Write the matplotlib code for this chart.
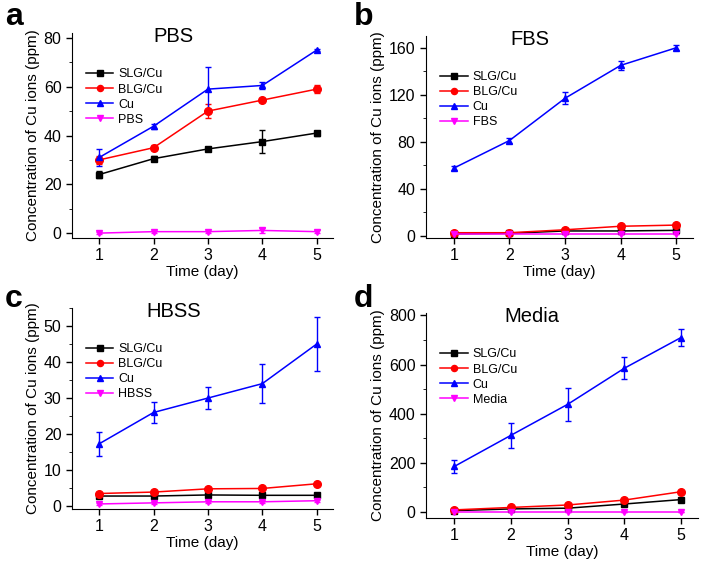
import matplotlib
matplotlib.use("Agg")
import matplotlib.pyplot as plt
from matplotlib.ticker import MultipleLocator

plt.rcParams["font.family"] = ["Liberation Sans", "DejaVu Sans"]

days = [1, 2, 3, 4, 5]
series_names = ["SLG/Cu", "BLG/Cu", "Cu"]

# PBS
pbs_slg = [24, 30.5, 34.5, 37.5, 41]
pbs_slg_err = [1.5, 1, 0.5, 4.8, 1]
pbs_blg = [30, 35, 50, 54.5, 59]
pbs_blg_err = [1.5, 1, 3, 0.8, 1.5]
pbs_cu = [31, 43.8, 59, 60.5, 75]
pbs_cu_err = [3.5, 1, 9, 1.5, 0.5]
pbs_ctrl = [0, 0.6, 0.6, 1.1, 0.6]
pbs_ctrl_err = [0.3, 0.4, 0.4, 1, 0.6]

# FBS
fbs_slg = [1.5, 2, 4, 4, 4.5]
fbs_slg_err = [0.3, 0.3, 0.5, 0.5, 0.5]
fbs_blg = [2.5, 2.5, 5, 8, 9]
fbs_blg_err = [0.5, 0.5, 0.5, 0.8, 0.8]
fbs_cu = [57.5, 81, 117, 145, 160]
fbs_cu_err = [1.5, 2, 5, 4, 2]
fbs_ctrl = [1.5, 1.5, 1.5, 1.5, 1.5]
fbs_ctrl_err = [0.2, 0.2, 0.2, 0.2, 0.2]

# HBSS
hbss_slg = [2.8, 2.8, 3.1, 3.0, 3.0]
hbss_slg_err = [0.3, 0.3, 0.3, 0.3, 0.6]
hbss_blg = [3.5, 3.9, 4.8, 4.9, 6.2]
hbss_blg_err = [0.3, 0.3, 0.3, 0.4, 0.3]
hbss_cu = [17.3, 26, 30, 34, 45]
hbss_cu_err = [3.3, 2.8, 3, 5.5, 7.5]
hbss_ctrl = [0.6, 0.9, 1.2, 1.2, 1.5]
hbss_ctrl_err = [0.2, 0.2, 0.3, 0.3, 0.3]

# Media
media_slg = [5, 12, 15, 32, 50]
media_slg_err = [2, 2, 3, 3, 4]
media_blg = [8, 18, 28, 48, 82]
media_blg_err = [2, 2, 3, 4, 4]
media_cu = [185, 312, 438, 585, 710]
media_cu_err = [25, 50, 68, 45, 35]
media_ctrl = [0, 0, 0, 0, 0]
media_ctrl_err = [1, 1, 1, 1, 1]

panels = [
    ("a", "PBS", [pbs_slg, pbs_blg, pbs_cu, pbs_ctrl],
     [pbs_slg_err, pbs_blg_err, pbs_cu_err, pbs_ctrl_err], (-2, 82), 20),
    ("b", "FBS", [fbs_slg, fbs_blg, fbs_cu, fbs_ctrl],
     [fbs_slg_err, fbs_blg_err, fbs_cu_err, fbs_ctrl_err], (-2, 170), 40),
    ("c", "HBSS", [hbss_slg, hbss_blg, hbss_cu, hbss_ctrl],
     [hbss_slg_err, hbss_blg_err, hbss_cu_err, hbss_ctrl_err], (-0.8, 55), 10),
    ("d", "Media", [media_slg, media_blg, media_cu, media_ctrl],
     [media_slg_err, media_blg_err, media_cu_err, media_ctrl_err], (-25, 810), 200),
]

colors = ["#000000", "#ff0000", "#0000ff", "#ff00ff"]
markers = ["s", "o", "^", "v"]
sizes = [5, 5.5, 5, 5]

# axes rectangles in pixels: left, right, top, bottom
rects = [(72, 333, 33, 238), (426, 693, 36, 238),
         (72, 333, 308, 509), (426, 698, 313, 518)]
# panel letter positions in pixels (left, top)
letter_pos = [(5, 2), (354, 2), (5, 284), (354, 284)]

W, H = 703, 567
fig = plt.figure(figsize=(W / 100, H / 100), dpi=100)

for (letter, name, vals, errs, ylim, step), (l, r, t, b), (lx, ly) in zip(panels, rects, letter_pos):
    ax = fig.add_axes([l / W, 1 - b / H, (r - l) / W, (b - t) / H])
    labels = series_names + [name]
    for y, e, c, m, s, lab in zip(vals, errs, colors, markers, sizes, labels):
        ax.errorbar(days, y, yerr=e, color=c, marker=m, markersize=s,
                    linewidth=1.1, elinewidth=1.0, capsize=2.5, capthick=1.0,
                    label=lab)
    ax.set_xlim(0.5, 5.3)
    ax.set_ylim(*ylim)
    ax.set_xticks(days)
    ax.yaxis.set_major_locator(MultipleLocator(step))
    ax.yaxis.set_minor_locator(MultipleLocator(step / 2))
    ax.spines[["top", "right"]].set_visible(False)
    ax.tick_params(labelsize=11.5, width=1, length=4)
    ax.tick_params(which="minor", length=2.5)
    ax.set_xlabel("Time (day)", fontsize=11, labelpad=1)
    ax.set_ylabel("Concentration of Cu ions (ppm)", fontsize=11, labelpad=3)
    ax.text(0.39, 1.03, name, transform=ax.transAxes, fontsize=14.5,
            ha="center", va="top")
    handles, hl = ax.get_legend_handles_labels()
    ax.legend([h[0] for h in handles], hl, loc="upper left",
              bbox_to_anchor=(0.02, 0.87), frameon=False, fontsize=9,
              markerscale=0.8, handlelength=2.2, handletextpad=0.4,
              labelspacing=0.25, borderpad=0.2)
    fig.text(lx / W, 1 - ly / H, letter, fontsize=23,
             fontweight="bold", va="top", ha="left")

fig.savefig("out.png", dpi=100)
